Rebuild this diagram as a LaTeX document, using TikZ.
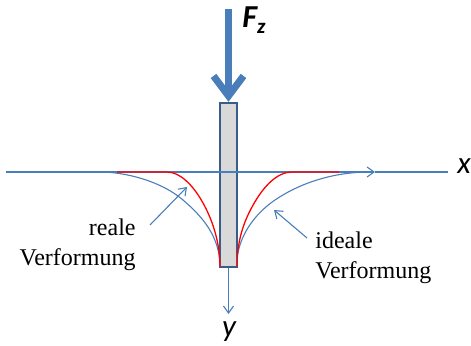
\documentclass[tikz,border=0pt]{standalone}
\usepackage{fontspec}
\setmainfont{Liberation Serif}
\newfontfamily\axisfont{Carlito}
\usepackage{tikz}
\usetikzlibrary{arrows.meta}
\definecolor{axisblue}{HTML}{4A7EBB}
\definecolor{pileblue}{HTML}{385D8A}
\definecolor{pilegray}{HTML}{D9D9D9}
\tikzset{
    axis/.style={axisblue, line width=0.55pt},
    openarrow/.style={-{Straight Barb[length=3.5pt, width=5pt]}},
    ideal/.style={axisblue, line width=0.55pt},
    real/.style={red, line width=0.65pt},
    pile/.style={draw=pileblue, fill=pilegray, line width=1.2pt, inner sep=0pt,
        minimum width=8.5pt, minimum height=82pt},
    force/.style={axisblue, line width=3.5pt, -{Straight Barb[length=10pt, width=15pt]}},
    axislabel/.style={inner sep=0pt, font=\axisfont\itshape\fontsize{15.5}{18}\selectfont},
    desclabel/.style={inner sep=0pt, font=\fontsize{12}{15}\selectfont}
}

\begin{document}
\begin{tikzpicture}[x=0.5pt, y=-0.5pt]
            \useasboundingbox (0,0) rectangle (471,346);

            % pile
            \node[pile] (pile) at (228.5,185) {};

            % axes
            \coordinate (xstart) at (6,172);
            \coordinate (xmid) at (375,172);
            \coordinate (xend) at (448,172);
            \coordinate (yend) at (228.5,314);
            \draw[axis, openarrow] (xstart) -- (xmid);
            \draw[axis] (xmid) -- (xend);
            \draw[axis, openarrow] (pile.south) -- (yend);
            \node[axislabel, anchor=base west] (xlabel) at (457,174) {x};
            \node[axislabel, anchor=base] (ylabel) at (229,337) {y};

            % ideal deflection (blue)
            \draw[ideal] (220,267) .. controls (220,237) and (203,217) .. (183,200)
                .. controls (161,181) and (125,172) .. (100,172);
            \draw[ideal] (236.5,267) .. controls (236.5,237) and (255,213.6) .. (275,200)
                .. controls (297,185) and (330,172) .. (370,172);

            % real deflection (red)
            \draw[real] (220,267) .. controls (220,240) and (211,217.3) .. (203,203)
                .. controls (193,185) and (180,172) .. (167,172) -- (117,172);
            \draw[real] (237,267) .. controls (237,240) and (244,221.8) .. (252,207)
                .. controls (263,186.6) and (277,172) .. (292,172) -- (339,172);

            % load
            \coordinate (ftop) at (228.5,9);
            \draw[force] (ftop) -- (pile.north);
            \node[anchor=base west, inner sep=0pt, font=\axisfont\bfseries\itshape] (flabel) at (242,28)
                {\fontsize{16}{18}\selectfont F\raisebox{-3pt}{\fontsize{10.5}{12}\selectfont z}};

            % descriptions
            \node[desclabel, align=right, anchor=north east] (reale) at (136,218.5) {reale\\Verformung};
            \node[desclabel, align=left, anchor=north west] (ideale) at (315,231.5) {ideale\\Verformung};
            \coordinate (realfrom) at (150,225);
            \coordinate (realto) at (187,187);
            \coordinate (idealfrom) at (307,238);
            \coordinate (idealto) at (274,210);
            \draw[axis, openarrow] (realfrom) -- (realto);
            \draw[axis, openarrow] (idealfrom) -- (idealto);
        \end{tikzpicture}
\end{document}
